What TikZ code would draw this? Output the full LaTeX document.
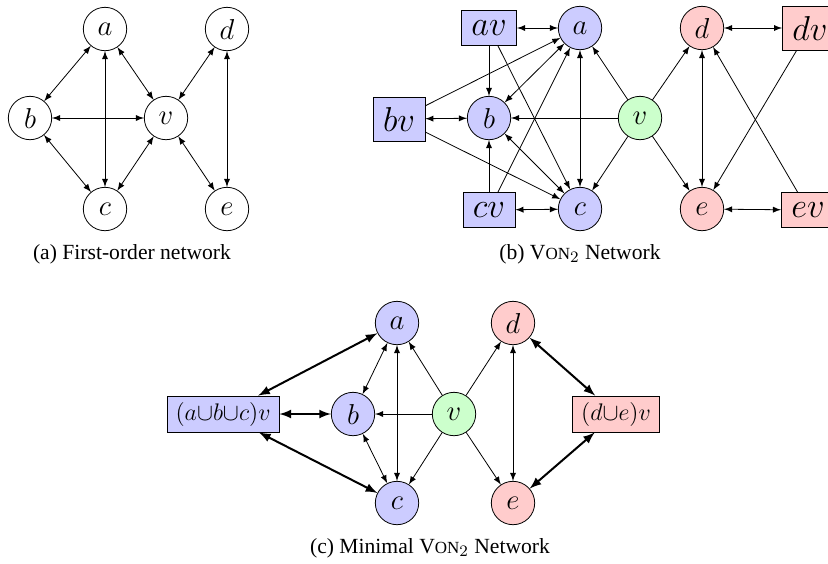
\documentclass[tikz,border=0pt]{standalone}
\usepackage{fontspec}
\setmainfont{Liberation Serif}
\usetikzlibrary{arrows,shapes,positioning,calc}

\tikzset{
  vertex/.style={draw, circle, minimum size=21.7pt, inner sep=0pt, fill=white, font=\fontsize{14}{16}\selectfont},
  bluev/.style={vertex, fill=blue!20},
  redv/.style={vertex, fill=red!20},
  greenv/.style={vertex, fill=green!20},
  memo/.style={draw, rectangle, inner sep=5pt, font=\fontsize{16}{18}\selectfont},
  minmemo/.style={draw, rectangle, inner xsep=4.3pt, inner ysep=3pt, font=\fontsize{12.3}{14}\selectfont},
  caption/.style={font=\fontsize{10.8}{13}\selectfont},
  link/.style={<->},
  boldlink/.style={<->, line width=1pt},
}
\newcommand{\vonname}{V{\fontsize{8.5}{10}\selectfont ON}$_2$}

\begin{document}
\begin{tikzpicture}[x=0.5pt, y=-0.5pt, >=latex]
\useasboundingbox (0,0) rectangle (828,563);

% (a) first-order network
\node[vertex] (a1) at (105,29) {$a$};
\node[vertex] (d1) at (227,29) {$d$};
\node[vertex] (b1) at (30,118) {$b$};
\node[vertex] (v1) at (166,118) {$v$};
\node[vertex] (c1) at (105,209) {$c$};
\node[vertex] (e1) at (227,209) {$e$};
\node[caption] (capa) at (132,254) {(a) First-order network};

\draw[link] (a1) -- (b1);
\draw[link] (a1) -- (c1);
\draw[link] (a1) -- (v1);
\draw[link] (b1) -- (v1);
\draw[link] (b1) -- (c1);
\draw[link] (c1) -- (v1);
\draw[link] (v1) -- (d1);
\draw[link] (v1) -- (e1);
\draw[link] (d1) -- (e1);

% (b) VON2 network
\node[memo, fill=blue!20] (av2) at (489,28) {$av$};
\node[bluev] (a2) at (580,28) {$a$};
\node[redv] (d2) at (702,28) {$d$};
\node[memo, fill=red!20] (dv2) at (810,28) {$dv$};
\node[memo, fill=blue!20] (bv2) at (399,119) {$bv$};
\node[bluev] (b2) at (489,118) {$b$};
\node[greenv] (v2) at (640,118) {$v$};
\node[memo, fill=blue!20] (cv2) at (489,210) {$cv$};
\node[bluev] (c2) at (580,209) {$c$};
\node[redv] (e2) at (702,209) {$e$};
\node[memo, fill=red!20] (ev2) at (808,210) {$ev$};
\node[caption] (capb) at (580,254) {(b) \vonname{} Network};

\draw[link] (av2) -- (a2);
\draw[->] (av2) -- (b2);
\draw[->] (av2) -- (c2);
\draw[->] (bv2) -- (a2);
\draw[link] (bv2) -- (b2);
\draw[->] (bv2) -- (c2);
\draw[->] (cv2) -- (a2);
\draw[->] (cv2) -- (b2);
\draw[link] (cv2) -- (c2);
\draw[link] (a2) -- (b2);
\draw[link] (a2) -- (c2);
\draw[link] (b2) -- (c2);
\draw[->] (v2) -- (a2);
\draw[->] (v2) -- (b2);
\draw[->] (v2) -- (c2);
\draw[->] (v2) -- (d2);
\draw[->] (v2) -- (e2);
\draw[link] (d2) -- (dv2);
\draw[link] (d2) -- (e2);
\draw[link] (e2) -- (ev2);
\draw[->] (dv2) -- (e2);
\draw[->] (ev2) -- (d2);

% (c) minimal VON2 network
\node[bluev] (a3) at (397,323) {$a$};
\node[redv] (d3) at (513,323) {$d$};
\node[minmemo, fill=blue!20] (abcv3) at (223,414) {$(a{\cup}b{\cup}c)v$};
\node[bluev] (b3) at (353,414) {$b$};
\node[greenv] (v3) at (454,414) {$v$};
\node[minmemo, fill=red!20] (dev3) at (616,414) {$(d{\cup}e)v$};
\node[bluev] (c3) at (397,503) {$c$};
\node[redv] (e3) at (513,503) {$e$};
\node[caption] (capc) at (430,548) {(c) Minimal \vonname{} Network};

\draw[boldlink] (abcv3) -- (a3);
\draw[boldlink] (abcv3) -- (b3);
\draw[boldlink] (abcv3) -- (c3);
\draw[link] (a3) -- (b3);
\draw[link] (a3) -- (c3);
\draw[link] (b3) -- (c3);
\draw[->] (v3) -- (a3);
\draw[->] (v3) -- (b3);
\draw[->] (v3) -- (c3);
\draw[->] (v3) -- (d3);
\draw[->] (v3) -- (e3);
\draw[link] (d3) -- (e3);
\draw[boldlink] (dev3) -- (d3);
\draw[boldlink] (dev3) -- (e3);

\end{tikzpicture}
\end{document}
